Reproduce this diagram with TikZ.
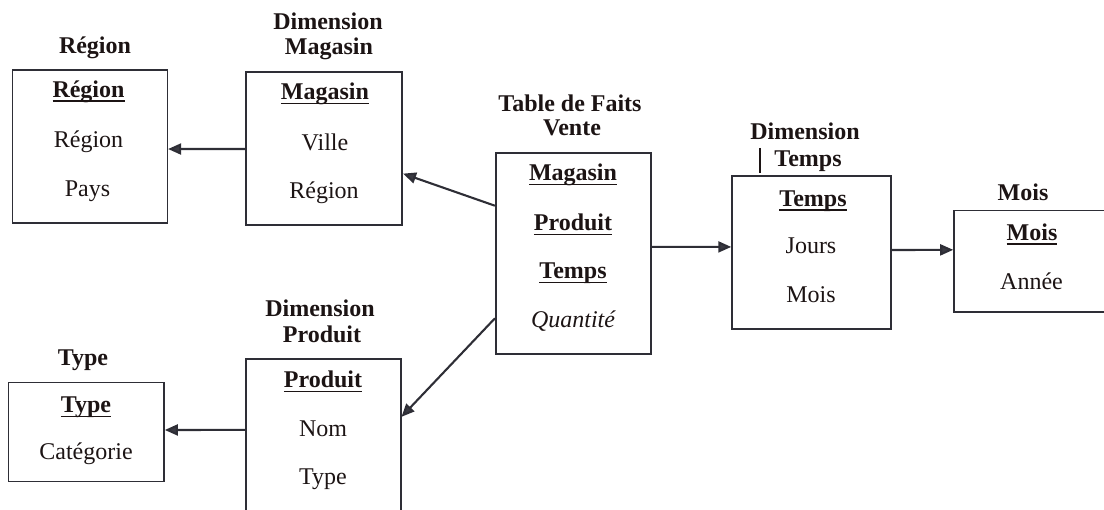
\documentclass[tikz,border=0pt]{standalone}
\usepackage{fontspec}
\setmainfont{Liberation Serif}
\usetikzlibrary{calc,arrows.meta}
\definecolor{ink}{HTML}{1C1414}
\definecolor{rule}{HTML}{2E2E36}
\definecolor{head}{HTML}{3A3A42}
% bold key field with a fixed-depth underline
\newcommand\keyf[1]{\setbox0\hbox{\bfseries #1}\rlap{\rule[-4.5pt]{\wd0}{1.8pt}}\box0}
\tikzset{
  box/.style={draw=rule, line width=1.6pt, inner sep=0pt, rectangle},
  lbl/.style={text=ink, inner sep=0pt, anchor=base, font=\fontsize{24}{28}\selectfont},
  ttl/.style={lbl, font=\fontsize{24}{28}\selectfont\bfseries},
  arr/.style={draw=rule, line width=2.1pt, -{Triangle[length=13pt,width=11pt,fill=head]}}
}
\begin{document}
\begin{tikzpicture}[x=1pt,y=-1pt]
\useasboundingbox (0,0) rectangle (1104,510);

% Région
\node[box, minimum width=155, minimum height=152.7] (reg) at (89.8,146.4) {};
\node[ttl] (regT) at (95,54) {Région};
\node[lbl] (reg1) at (88.5,97.5) {\keyf{Région}};
\node[lbl] (reg2) at (88.5,147.5) {Région};
\node[lbl] (reg3) at (87.5,196.5) {Pays};

% Dimension Magasin
\node[box, minimum width=156.3, minimum height=153.3] (mag) at (324.1,148.4) {};
\node[ttl] (magT1) at (328,30) {Dimension};
\node[ttl] (magT2) at (329,55) {Magasin};
\node[lbl] (mag1) at (325,100) {\keyf{Magasin}};
\node[lbl] (mag2) at (325,150.5) {Ville};
\node[lbl] (mag3) at (324,199) {Région};

% Table de Faits Vente
\node[box, minimum width=155, minimum height=201.3] (fact) at (573.2,253.4) {};
\node[ttl] (factT1) at (570,111.5) {Table de Faits};
\node[ttl] (factT2) at (572,136) {Vente};
\node[lbl] (fact1) at (573,181) {\keyf{Magasin}};
\node[lbl] (fact2) at (573,231) {\keyf{Produit}};
\node[lbl] (fact3) at (573,279) {\keyf{Temps}};
\node[lbl] (fact4) at (573,328) {\itshape Quantité};

% Dimension Temps
\node[box, minimum width=158.7, minimum height=153] (temps) at (811.4,252.5) {};
\node[ttl] (tempsT1) at (805,140) {Dimension};
\node[ttl] (tempsT2) at (808,167) {Temps};
\draw[ink, line width=2.6pt] (760,148) -- (760,173);
\node[lbl] (temps1) at (813,206.5) {\keyf{Temps}};
\node[lbl] (temps2) at (811,254) {Jours};
\node[lbl] (temps3) at (811,303) {Mois};

% Mois
\node[box, minimum width=154, minimum height=101.6] (mois) at (1031,261.5) {};
\node[ttl] (moisT) at (1023,200.5) {Mois};
\node[lbl] (mois1) at (1032,240.5) {\keyf{Mois}};
\node[lbl] (mois2) at (1031.5,290) {Année};

% Dimension Produit
\node[box, minimum width=155, minimum height=156] (prod) at (323.2,437) {};
\node[ttl] (prodT1) at (320,316.5) {Dimension};
\node[ttl] (prodT2) at (322,343) {Produit};
\node[lbl] (prod1) at (323,388) {\keyf{Produit}};
\node[lbl] (prod2) at (323,436.5) {Nom};
\node[lbl] (prod3) at (323,485) {Type};

% Type
\node[box, minimum width=155.7, minimum height=99] (type) at (86.2,432.2) {};
\node[ttl] (typeT) at (83,365.5) {Type};
\node[lbl] (type1) at (86,413) {\keyf{Type}};
\node[lbl] (type2) at (86,460) {Catégorie};

% links
\draw[arr] ($(mag.north west)!0.504!(mag.south west)$) -- ($(reg.north east)!0.517!(reg.south east)$);
\draw[arr] ($(fact.north west)!0.265!(fact.south west)$) -- ($(mag.north east)!0.663!(mag.south east)$);
\draw[arr] ($(fact.north west)!0.82!(fact.south west)$) -- ($(prod.north east)!0.372!(prod.south east)$);
\draw[arr] ($(fact.north east)!0.468!(fact.south east)$) -- ($(temps.north west)!0.464!(temps.south west)$);
\draw[arr] ($(temps.north east)!0.484!(temps.south east)$) -- ($(mois.north west)!0.387!(mois.south west)$);
\draw[arr] ($(prod.north west)!0.455!(prod.south west)$) -- ($(type.north east)!0.478!(type.south east)$);
\end{tikzpicture}
\end{document}
